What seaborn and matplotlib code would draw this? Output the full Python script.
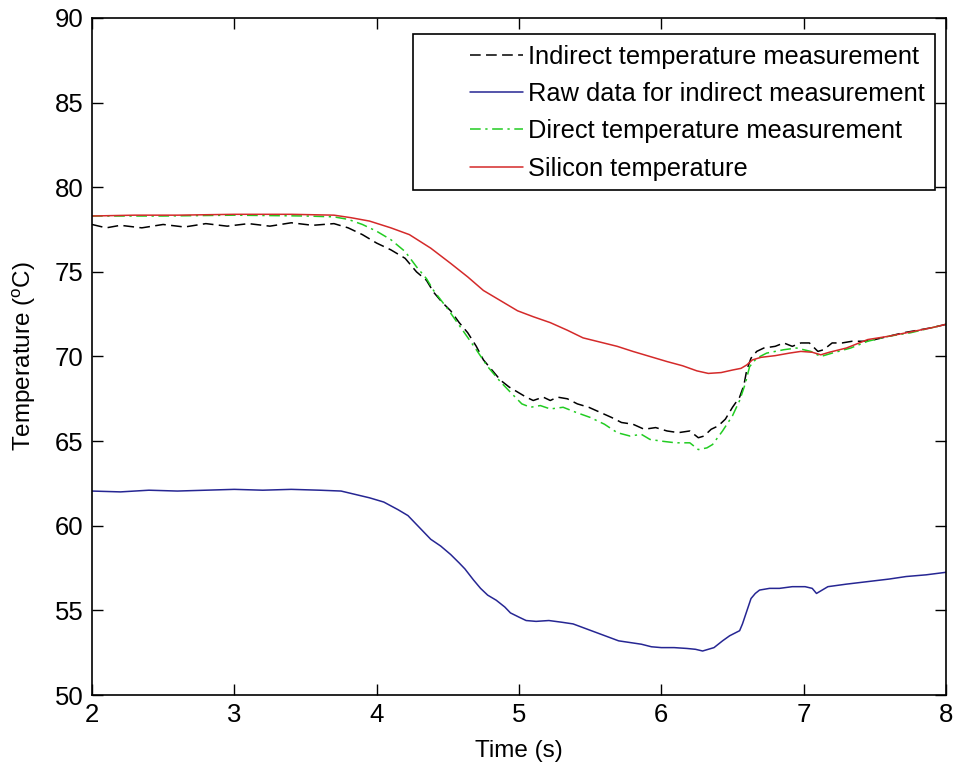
import matplotlib
matplotlib.use("Agg")
import matplotlib.pyplot as plt
from matplotlib.patches import Rectangle
import seaborn as sns
import pandas as pd

# Silicon temperature
t_silicon = [2.0, 2.3, 2.6, 3.0, 3.4, 3.7, 3.82, 3.95, 4.1, 4.23, 4.38, 4.52, 4.64, 4.75,
             4.87, 4.99, 5.1, 5.22, 5.34, 5.45, 5.57, 5.69, 5.8, 5.92, 6.04, 6.15, 6.25,
             6.33, 6.42, 6.5, 6.56, 6.6, 6.64, 6.7, 6.8, 6.9, 6.98, 7.06, 7.12, 7.18, 7.3,
             7.45, 7.6, 7.75, 7.9, 8.0]
v_silicon = [78.3, 78.35, 78.35, 78.4, 78.4, 78.35, 78.2, 78.0, 77.6, 77.2, 76.4, 75.5,
             74.7, 73.9, 73.3, 72.7, 72.35, 72.0, 71.55, 71.1, 70.85, 70.6, 70.3, 70.0,
             69.7, 69.45, 69.15, 69.0, 69.05, 69.2, 69.3, 69.5, 69.8, 69.95, 70.05, 70.2,
             70.3, 70.25, 70.1, 70.25, 70.5, 71.0, 71.2, 71.45, 71.7, 71.9]

# Indirect temperature measurement
t_indirect = [2.0, 2.1, 2.2, 2.35, 2.5, 2.65, 2.8, 2.95, 3.1, 3.25, 3.4, 3.55, 3.7, 3.8,
              3.9, 4.0, 4.1, 4.2, 4.28, 4.35, 4.4, 4.46, 4.52, 4.58, 4.64, 4.7, 4.75,
              4.81, 4.87, 4.93, 4.99, 5.05, 5.1, 5.17, 5.22, 5.27, 5.34, 5.41, 5.49,
              5.57, 5.65, 5.72, 5.8, 5.88, 5.96, 6.04, 6.12, 6.2, 6.26, 6.3, 6.35, 6.4,
              6.45, 6.5, 6.55, 6.58, 6.6, 6.63, 6.67, 6.72, 6.8, 6.86, 6.92, 6.98, 7.04,
              7.1, 7.14, 7.2, 7.27, 7.34, 7.42, 7.5, 7.6, 7.7, 7.8, 7.9, 8.0]
v_indirect = [77.8, 77.6, 77.75, 77.6, 77.8, 77.65, 77.85, 77.7, 77.85, 77.7, 77.9, 77.75,
              77.85, 77.6, 77.2, 76.7, 76.3, 75.8, 75.0, 74.5, 73.8, 73.2, 72.7, 72.0,
              71.4, 70.6, 69.8, 69.2, 68.6, 68.2, 67.9, 67.6, 67.4, 67.6, 67.4, 67.6,
              67.5, 67.2, 67.0, 66.7, 66.4, 66.1, 66.0, 65.7, 65.8, 65.6, 65.5, 65.6,
              65.2, 65.3, 65.7, 65.9, 66.3, 67.0, 67.6, 68.3, 69.2, 69.9, 70.3, 70.5,
              70.6, 70.8, 70.6, 70.8, 70.8, 70.3, 70.4, 70.8, 70.8, 70.9, 70.9, 71.0,
              71.2, 71.4, 71.55, 71.7, 71.9]

# Direct temperature measurement
t_direct = [2.0, 2.5, 3.0, 3.5, 3.7, 3.8, 3.9, 4.0, 4.1, 4.2, 4.28, 4.35, 4.4, 4.5, 4.6,
            4.7, 4.78, 4.87, 4.95, 5.02, 5.08, 5.15, 5.22, 5.31, 5.4, 5.5, 5.6, 5.69,
            5.78, 5.86, 5.92, 6.0, 6.1, 6.2, 6.26, 6.32, 6.36, 6.43, 6.5, 6.55, 6.59,
            6.62, 6.67, 6.74, 6.86, 6.95, 7.05, 7.12, 7.2, 7.33, 7.45, 7.6, 7.75, 7.9, 8.0]
v_direct = [78.3, 78.3, 78.35, 78.3, 78.25, 78.1, 77.8, 77.4, 76.9, 76.2, 75.3, 74.6,
            73.9, 72.8, 71.6, 70.4, 69.4, 68.5, 67.8, 67.2, 67.0, 67.1, 66.9, 67.0,
            66.7, 66.4, 66.0, 65.5, 65.3, 65.4, 65.1, 65.0, 64.9, 64.9, 64.5, 64.6,
            64.8, 65.6, 66.5, 67.4, 68.4, 69.4, 69.9, 70.2, 70.4, 70.5, 70.3, 70.0,
            70.2, 70.5, 70.9, 71.2, 71.4, 71.7, 71.9]

# Raw data for indirect measurement
t_raw = [2.0, 2.2, 2.4, 2.6, 2.8, 3.0, 3.2, 3.4, 3.6, 3.75, 3.85, 3.95, 4.05, 4.15, 4.22,
         4.3, 4.38, 4.45, 4.52, 4.58, 4.62, 4.68, 4.73, 4.78, 4.84, 4.9, 4.94, 5.0, 5.05,
         5.12, 5.21, 5.3, 5.38, 5.46, 5.54, 5.62, 5.7, 5.78, 5.86, 5.93, 6.0, 6.09, 6.18,
         6.24, 6.29, 6.33, 6.37, 6.43, 6.48, 6.55, 6.57, 6.59, 6.61, 6.63, 6.66, 6.69,
         6.76, 6.83, 6.92, 7.01, 7.06, 7.09, 7.12, 7.17, 7.3, 7.45, 7.6, 7.72, 7.86, 8.0]
v_raw = [62.05, 62.0, 62.1, 62.05, 62.1, 62.15, 62.1, 62.15, 62.1, 62.05, 61.85, 61.65,
         61.4, 60.95, 60.6, 59.9, 59.2, 58.8, 58.3, 57.8, 57.45, 56.8, 56.3, 55.9, 55.6,
         55.2, 54.85, 54.6, 54.4, 54.35, 54.4, 54.3, 54.2, 53.95, 53.7, 53.45, 53.2,
         53.1, 53.0, 52.85, 52.8, 52.8, 52.75, 52.7, 52.6, 52.7, 52.8, 53.2, 53.5, 53.8,
         54.2, 54.7, 55.2, 55.7, 56.0, 56.2, 56.3, 56.3, 56.4, 56.4, 56.3, 56.0, 56.15,
         56.4, 56.55, 56.7, 56.85, 57.0, 57.1, 57.25]

x_ticks = [2, 3, 4, 5, 6, 7, 8]
y_ticks = [50, 55, 60, 65, 70, 75, 80, 85, 90]

sns.set_theme(style="ticks")
plt.rcParams["font.family"] = ["Liberation Sans", "DejaVu Sans"]
plt.rcParams["mathtext.fontset"] = "custom"
plt.rcParams["mathtext.rm"] = "Liberation Sans"
plt.rcParams["mathtext.it"] = "Liberation Sans"
plt.rcParams["text.color"] = "black"
plt.rcParams["axes.labelcolor"] = "black"

fig = plt.figure(figsize=(9.55, 7.65), dpi=100)
ax = fig.add_axes([0.0963, 0.0915, 0.8943, 0.885])

series = [
    (t_indirect, v_indirect, "Indirect temperature measurement", "black", (7, 3.5)),
    (t_raw, v_raw, "Raw data for indirect measurement", "#262693", None),
    (t_direct, v_direct, "Direct temperature measurement", "#22cc22", (7, 3, 1.5, 3)),
    (t_silicon, v_silicon, "Silicon temperature", "#d42a2a", None),
]

for t, v, name, col, dash in series:
    df = pd.DataFrame({"t": t, "v": v})
    sns.lineplot(data=df, x="t", y="v", ax=ax, color=col, lw=1.1, label=name)
    if dash is not None:
        ax.lines[-1].set_dashes(dash)

ax.set_xlim(2, 8)
ax.set_ylim(50, 90)
ax.set_xticks(x_ticks)
ax.set_yticks(y_ticks)
ax.tick_params(direction="in", length=8, width=1, top=True, right=True,
               labelsize=18.5, colors="black", pad=6)
for s in ax.spines.values():
    s.set_visible(True)
    s.set_linewidth(1.2)
    s.set_color("black")

ax.set_xlabel("Time (s)", fontsize=17.5, labelpad=9)
ax.set_ylabel(r"Temperature ($^{\rm o}$C)", fontsize=17.5, labelpad=12)

# MATLAB-style legend: a wide white box with short line samples set in from the left
ax.add_patch(Rectangle((0.3759, 0.746), 0.987 - 0.3759, 0.976 - 0.746,
                       transform=ax.transAxes, facecolor="white", edgecolor="black",
                       lw=1.2, zorder=4.5, clip_on=False))
leg = ax.legend(loc="upper left", bbox_to_anchor=(0.4301, 0.976), borderaxespad=0,
                fontsize=18.3, handlelength=2.1, handletextpad=0.2, labelspacing=0.52,
                borderpad=0.42, frameon=False)
leg.set_zorder(5)
for txt in leg.get_texts():
    txt.set_color("black")

fig.savefig("out.png", dpi=100)
